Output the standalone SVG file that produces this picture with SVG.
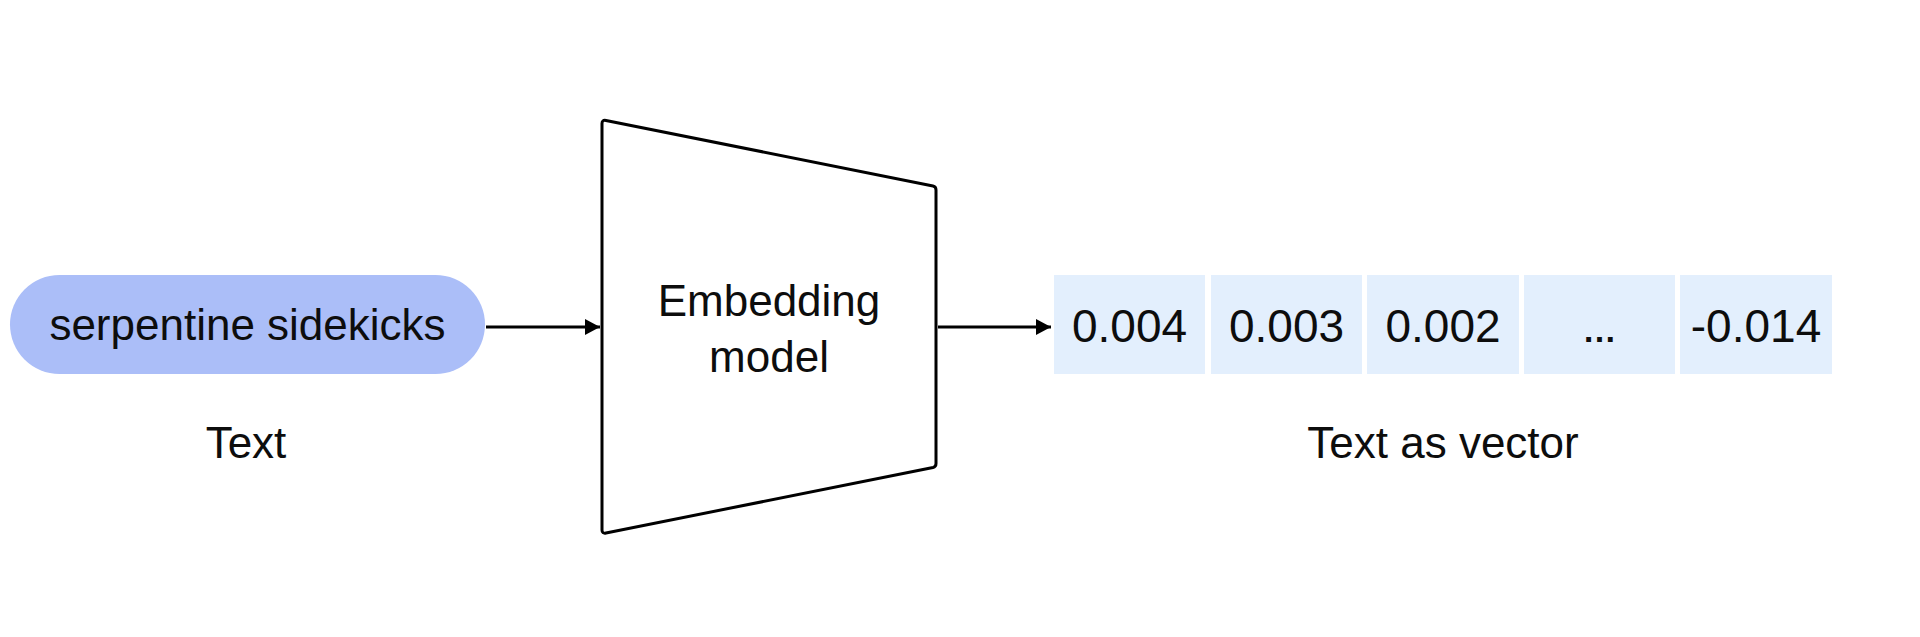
<svg xmlns="http://www.w3.org/2000/svg" width="1920" height="637" viewBox="0 0 1920 637">
<style>
.t{font-family:"Liberation Sans",Arial,sans-serif;font-size:44px;fill:#0d0d0d;text-anchor:middle}
.n{font-family:"Liberation Sans",Arial,sans-serif;font-size:46px;fill:#0d0d0d;text-anchor:middle}
.cell{fill:#e3effd}
.conn{stroke:#000;stroke-width:3;fill:none}
</style>
<defs>
<marker id="ah" viewBox="0 0 15 16" refX="15" refY="8" markerWidth="15" markerHeight="16" markerUnits="userSpaceOnUse" orient="auto">
<path d="M0,0 L15,8 L0,16 Z" fill="#000"/>
</marker>
</defs>
<rect width="1920" height="637" fill="#fff"/>
<g id="input">
<rect x="10" y="275" width="475" height="99" rx="49.5" fill="#abbef8"/>
<text class="t" x="247.5" y="340">serpentine sidekicks</text>
<text class="t" x="246" y="458">Text</text>
</g>
<g id="model">
<path d="M606,120.5 L933,186 Q936,186.6 936,190 L936,463.5 Q936,466.8 933,467.5 L606,533 Q602,533.8 602,530 L602,123.5 Q602,119.7 606,120.5 Z" fill="#fff" stroke="#000" stroke-width="3" stroke-linejoin="round"/>
<text class="t" x="769" y="316">Embedding</text>
<text class="t" x="769" y="372">model</text>
</g>
<g id="vector">
<rect class="cell" x="1054" y="275" width="151" height="99"/>
<rect class="cell" x="1211" y="275" width="151" height="99"/>
<rect class="cell" x="1367" y="275" width="152" height="99"/>
<rect class="cell" x="1524" y="275" width="151" height="99"/>
<rect class="cell" x="1680" y="275" width="152" height="99"/>
<text class="n" x="1129.5" y="342">0.004</text>
<text class="n" x="1286.5" y="342">0.003</text>
<text class="n" x="1443" y="342">0.002</text>
<text class="n" x="1599.5" y="342" style="font-size:34px;font-weight:bold">…</text>
<text class="n" x="1756" y="342">-0.014</text>
<text class="t" x="1443" y="458">Text as vector</text>
</g>
<g id="connectors">
<line class="conn" x1="486" y1="327" x2="600" y2="327" marker-end="url(#ah)"/>
<line class="conn" x1="938" y1="327" x2="1051" y2="327" marker-end="url(#ah)"/>
</g>
</svg>
